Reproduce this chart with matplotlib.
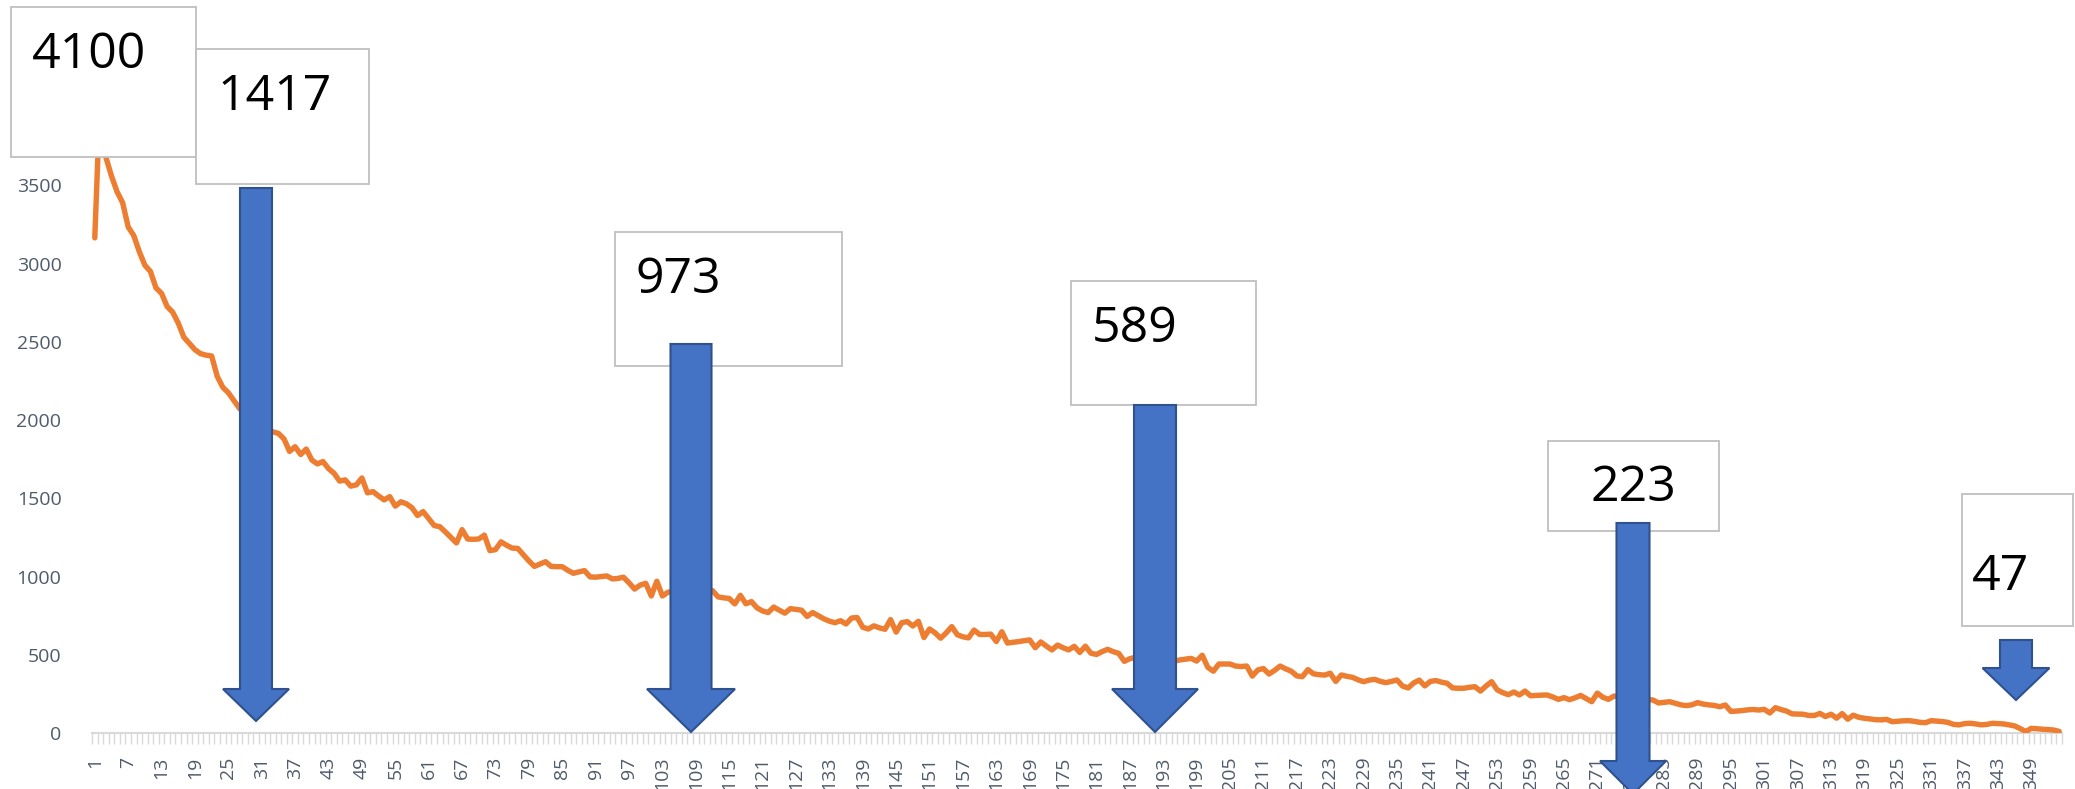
import numpy as np
import matplotlib.pyplot as plt
from matplotlib.patches import Polygon, Rectangle

# values, one per category 1..354
counts = [
    3165, 4100, 3680, 3560, 3460, 3390, 3235, 3180, 3077, 2990,
    2950, 2845, 2810, 2726, 2690, 2620, 2530, 2490, 2450, 2425,
    2415, 2410, 2280, 2210, 2175, 2125, 2075, 2040, 2010, 1985,
    1960, 1940, 1925, 1915, 1880, 1800, 1830, 1780, 1815, 1745,
    1720, 1735, 1690, 1660, 1610, 1618, 1578, 1586, 1630, 1535,
    1543, 1515, 1490, 1511, 1450, 1478, 1465, 1440, 1390, 1415,
    1370, 1326, 1319, 1285, 1250, 1215, 1300, 1240, 1238, 1240,
    1265, 1166, 1172, 1222, 1200, 1182, 1180, 1140, 1100, 1065,
    1080, 1095, 1065, 1063, 1063, 1040, 1021, 1030, 1038, 998,
    996, 1000, 1004, 985, 988, 996, 960, 920, 945, 957,
    876, 970, 876, 900, 905, 912, 918, 920, 915, 912,
    910, 910, 870, 864, 860, 825, 880, 826, 840, 800,
    780, 770, 805, 785, 766, 795, 790, 785, 745, 770,
    750, 730, 715, 705, 718, 697, 735, 738, 676, 665,
    685, 672, 663, 725, 645, 705, 712, 684, 714, 610,
    665, 640, 606, 640, 680, 628, 615, 608, 658, 630,
    630, 632, 585, 647, 575, 580, 584, 590, 595, 545,
    582, 555, 531, 562, 545, 531, 554, 515, 555, 510,
    502, 520, 535, 520, 509, 458, 475, 484, 480, 478,
    475, 472, 470, 468, 460, 467, 472, 477, 460, 497,
    420, 395, 441, 441, 441, 428, 425, 428, 364, 403,
    412, 377, 400, 428, 410, 395, 365, 360, 405, 378,
    373, 370, 382, 330, 371, 362, 356, 340, 328, 338,
    343, 330, 322, 330, 339, 300, 288, 320, 338, 301,
    330, 335, 325, 318, 288, 286, 286, 292, 296, 268,
    300, 328, 276, 258, 245, 262, 243, 268, 238, 240,
    242, 243, 230, 215, 226, 213, 225, 240, 220, 200,
    255, 228, 215, 236, 232, 228, 225, 222, 218, 214,
    211, 192, 196, 200, 190, 180, 175, 180, 194, 185,
    180, 176, 168, 179, 138, 140, 143, 148, 150, 147,
    151, 128, 162, 150, 140, 122, 121, 120, 112, 112,
    125, 105, 120, 95, 124, 88, 114, 100, 94, 90,
    85, 84, 87, 72, 75, 78, 79, 74, 68, 66,
    79, 76, 73, 68, 55, 52, 60, 62, 58, 52,
    55, 62, 60, 58, 52, 45, 28, 10, 30, 27,
    24, 22, 19, 10,
]
categories = np.arange(1, len(counts) + 1)
y_ticks = [0, 500, 1000, 1500, 2000, 2500, 3000, 3500]

callout_labels = ['4100', '1417', '973', '589', '223', '47']

W, H = 2075, 789
fig = plt.figure(figsize=(W / 100, H / 100), dpi=100)
ax = fig.add_axes([92 / W, 1 - 733 / H, (2062 - 92) / W, (733 - 29) / H])

ax.plot(categories, counts, color='#ED7D31', lw=3.9,
        solid_joinstyle='round', solid_capstyle='round', zorder=3)

ax.set_xlim(0.5, len(counts) + 0.5)
ax.set_ylim(0, 4500)
ax.set_yticks(y_ticks)
ax.set_yticklabels([str(v) for v in y_ticks])
ax.set_xticks(categories[::6])
ax.set_xticklabels([str(c) for c in categories[::6]], rotation=90)
ax.set_xticks(np.arange(0.5, len(counts) + 1), minor=True)

tick_col = '#4F5A6B'
for lab in ax.get_xticklabels() + ax.get_yticklabels():
    lab.set_fontfamily('Open Sans')
    lab.set_fontsize(14)
    lab.set_color(tick_col)
ax.tick_params(axis='y', length=0, pad=22)
ax.tick_params(axis='x', which='major', length=0, pad=17)
ax.tick_params(axis='x', which='minor', length=8, width=1, color='#D9D9D9')

for s in ['top', 'right', 'left']:
    ax.spines[s].set_visible(False)
ax.spines['bottom'].set_color('#D9D9D9')
ax.spines['bottom'].set_linewidth(1.5)


def px(x, y):
    return (x / W, 1 - y / H)


# callout boxes: left, top, right, bottom in pixels, then text anchor
boxes = [
    (11, 7, 196, 157, 32, 68, 'left'),
    (196, 49, 369, 184, 218, 110, 'left'),
    (615, 232, 842, 366, 636, 293, 'left'),
    (1071, 281, 1256, 405, 1092, 342, 'left'),
    (1548, 441, 1719, 531, 1633, 501, 'center'),
    (1962, 494, 2073, 626, 1972, 590, 'left'),
]
for (l, t, r, b, tx, ty, ha), label in zip(boxes, callout_labels):
    x0, y0 = px(l, b)
    rect = Rectangle((x0, y0), (r - l) / W, (b - t) / H, transform=fig.transFigure,
                     facecolor='white', edgecolor='#BFBFBF', lw=1.3, zorder=5)
    fig.add_artist(rect)
    fig.text(*px(tx, ty), label, fontsize=36, family='Open Sans', color='black',
             ha=ha, va='baseline', zorder=6)

# block arrows: center x, shaft top, shaft half width, head start, head half width, tip
arrows = [
    (256, 188, 16, 689, 33, 721),
    (691, 344, 20.5, 689, 44, 732),
    (1155, 405, 21, 689, 43, 732),
    (1633, 523, 16.5, 761, 33, 794),
    (2016, 640, 16, 668, 33.5, 700),
]
for cx, top, sw, hy, hw, tip in arrows:
    pts = [(cx - sw, top), (cx + sw, top), (cx + sw, hy), (cx + hw, hy),
           (cx, tip), (cx - hw, hy), (cx - sw, hy)]
    poly = Polygon([px(x, y) for x, y in pts], closed=True, transform=fig.transFigure,
                   facecolor='#4472C4', edgecolor='#2F528F', lw=1.5, zorder=7)
    fig.add_artist(poly)

fig.savefig('out.png', dpi=100, facecolor='white')
